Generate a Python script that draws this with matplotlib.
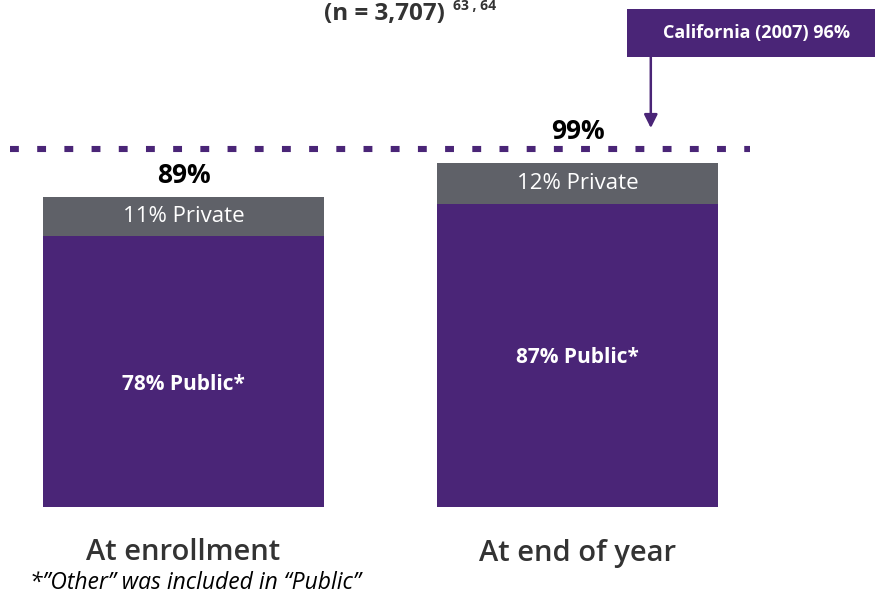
import numpy as np
import matplotlib
matplotlib.use('Agg')
import matplotlib.pyplot as plt
from matplotlib.patches import Rectangle

plt.rcParams['font.family'] = ['Open Sans', 'DejaVu Sans']

# enrollment data (percent)
categories = ['At enrollment', 'At end of year']
public = [78, 87]
private = [11, 12]
totals = [89, 99]
public_labels = ['78% Public*', '87% Public*']
private_labels = ['11% Private', '12% Private']
total_labels = ['89%', '99%']
california_label = 'California (2007) 96%'

purple = '#4a2577'
gray = '#5f6168'
dark = '#333333'

fig = plt.figure(figsize=(8.75, 6.01), dpi=100)
ax = fig.add_axes([0, 1 - 507 / 601, 1, 507 / 601])
ax.set_xlim(-0.4657, 1.755)
ax.set_ylim(0, 145.7)
ax.axis('off')

x = np.arange(len(categories))
w = 0.713
ax.bar(x, public, width=w, color=purple, linewidth=0)
ax.bar(x, private, width=w, bottom=public, color=gray, linewidth=0)

label_pad = [2.3, 4.9]
pub_pos = [0.45, 0.495]
for i in range(len(x)):
    ax.text(x[i], public[i] * pub_pos[i], public_labels[i], ha='center', va='center',
            color='white', fontsize=15, fontweight='bold')
    ax.text(x[i], public[i] + private[i] / 2, private_labels[i], ha='center', va='center',
            color='white', fontsize=16)
    ax.text(x[i], totals[i] + label_pad[i], total_labels[i], ha='center', va='bottom',
            color='black', fontsize=19, fontweight='bold')

# California reference line
ref_y = 103.0
ax.plot([-0.44, 1.4378], [ref_y, ref_y], color=purple, linewidth=4.4,
        dashes=(1.45, 3.0), solid_capstyle='butt', dash_capstyle='butt')

# callout box with arrow
ax.add_patch(Rectangle((1.1256, 129.3), 0.7, 13.7, color=purple, linewidth=0, clip_on=False))
ax.text(1.453, 136.2, california_label, ha='center', va='center', color='white',
        fontsize=13, fontweight='bold')
ax.annotate('', xy=(1.186, 108.9), xytext=(1.186, 129.3),
            arrowprops=dict(arrowstyle='-|>,head_length=0.8,head_width=0.4',
                            color=purple, lw=1.8, shrinkA=0, shrinkB=0))

# title (top line cut off)
fig.text(0.439, 0.977, '(n = 3,707)', ha='center', va='center', color=dark,
         fontsize=17.5, fontweight='bold')
fig.text(0.518, 0.99, '63 , 64', ha='left', va='center', color=dark,
         fontsize=10, fontweight='bold')

for i, c in enumerate(categories):
    fig.text((x[i] + 0.4657) / 2.2207, 1 - 553 / 601, c, ha='center', va='center',
             color=dark, fontsize=21, fontweight='semibold')

fig.text(0.034, 1 - 583 / 601, '*\u201dOther\u201d was included in \u201cPublic\u201d',
         ha='left', va='center', color='black', fontsize=16.5, style='italic')

fig.savefig('out.png', dpi=100)
